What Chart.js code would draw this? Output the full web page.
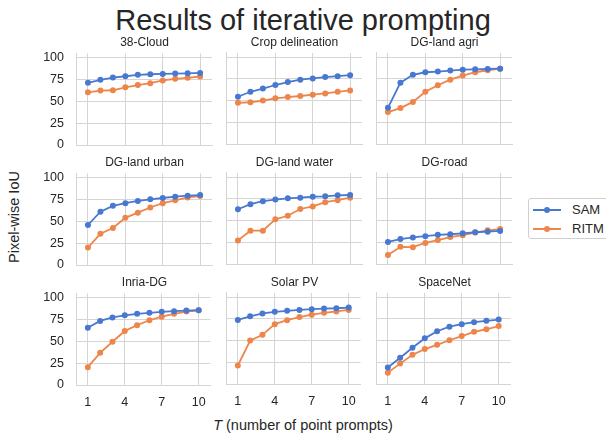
<!DOCTYPE html>
<html>
<head>
<meta charset="utf-8">
<script src="https://cdn.jsdelivr.net/npm/chart.js@4"></script>
<style>
  html,body{margin:0;padding:0;background:#fff;}
  body{width:606px;height:439px;position:relative;overflow:hidden;font-family:"Liberation Sans",Arial,sans-serif;color:#262626;}
  .abs{position:absolute;}
  canvas.panel{position:absolute;}
  .ptitle{position:absolute;font-size:12px;text-align:center;white-space:nowrap;line-height:14px;}
  #title{left:0;width:606px;top:4px;text-align:center;font-size:29px;line-height:32px;}
  #xlabel{left:85px;width:436px;top:416px;text-align:center;font-size:14.5px;line-height:18px;}
  #ylabel{left:14px;top:217px;font-size:14.5px;line-height:18px;transform:translate(-50%,-50%) rotate(-90deg);white-space:nowrap;}
  #legend{left:528px;top:198px;width:80px;height:41px;border:1px solid #d0d0d0;border-radius:3px;background:#fff;box-sizing:border-box;}
  .lrow{position:absolute;left:4px;height:14px;font-size:13px;line-height:14px;}
  .lline{position:absolute;left:0;top:6px;width:28px;height:2px;}
  .ldot{position:absolute;left:11px;top:4px;width:6px;height:6px;border-radius:50%;}
  .ltext{position:absolute;left:39px;top:0;}
</style>
</head>
<body>
<div id="title" class="abs">Results of iterative prompting</div>
<div id="ylabel" class="abs">Pixel-wise IoU</div>
<div id="xlabel" class="abs"><i>T</i> (number of point prompts)</div>
<div id="legend" class="abs"></div>
<script>
'use strict';

// ---- data ----
const T = [1, 2, 3, 4, 5, 6, 7, 8, 9, 10];
const xTicks = [1, 4, 7, 10];
const yTicks = [0, 25, 50, 75, 100];
const seriesNames = ['SAM', 'RITM'];
const seriesColors = ['#4878d0', '#ee854a'];
const panelNames = ['38-Cloud', 'Crop delineation', 'DG-land agri', 'DG-land urban', 'DG-land water', 'DG-road', 'Inria-DG', 'Solar PV', 'SpaceNet'];

const samCloud   = [71.4, 74.8, 77.4, 78.9, 80.5, 81.2, 81.6, 82.0, 82.3, 82.7];
const ritmCloud  = [60.5, 62.4, 62.8, 66.2, 68.8, 71.0, 74.1, 75.9, 77.1, 78.6];
const samCrop    = [54.5, 60.2, 63.9, 68.0, 71.4, 74.1, 75.6, 77.1, 78.2, 79.3];
const ritmCrop   = [47.4, 48.1, 50.0, 52.6, 54.1, 55.3, 56.8, 58.3, 60.2, 61.7];
const samAgri    = [41.7, 70.7, 79.7, 82.7, 83.5, 84.6, 85.7, 86.1, 86.5, 86.8];
const ritmAgri   = [36.8, 41.4, 48.5, 60.2, 67.7, 74.1, 78.9, 82.7, 85.0, 86.8];
const samUrban   = [45.9, 61.2, 67.9, 70.9, 73.5, 75.4, 76.9, 78.4, 79.5, 80.2];
const ritmUrban  = [20.1, 35.8, 42.5, 54.1, 60.1, 66.0, 70.9, 74.3, 77.6, 79.1];
const samWater   = [63.1, 69.0, 72.4, 74.3, 75.7, 76.5, 77.6, 78.0, 79.1, 79.5];
const ritmWater  = [27.2, 38.4, 38.4, 51.5, 55.6, 63.4, 66.4, 71.3, 73.5, 76.5];
const samRoad    = [25.4, 28.7, 30.6, 32.1, 33.6, 34.3, 35.4, 36.6, 37.3, 38.1];
const ritmRoad   = [10.4, 19.8, 19.4, 24.3, 27.6, 31.0, 33.2, 36.2, 38.8, 40.3];
const samInria   = [65.7, 73.5, 77.6, 79.9, 81.7, 82.8, 84.0, 84.7, 85.4, 85.8];
const ritmInria  = [20.5, 36.9, 49.6, 61.9, 68.7, 74.3, 78.4, 81.7, 84.3, 85.8];
const samSolar   = [73.9, 78.0, 81.3, 83.2, 84.3, 85.4, 86.2, 86.9, 87.3, 88.1];
const ritmSolar  = [21.3, 50.0, 56.7, 69.0, 73.5, 77.2, 79.9, 82.1, 83.6, 85.4];
const samSpace   = [19.0, 30.2, 41.8, 52.6, 60.8, 66.0, 69.0, 71.3, 72.8, 74.3];
const ritmSpace  = [13.1, 23.5, 33.6, 40.3, 45.1, 50.4, 55.2, 60.1, 63.1, 66.8];

const panelSeries = [
  [samCloud, ritmCloud], [samCrop, ritmCrop], [samAgri, ritmAgri],
  [samUrban, ritmUrban], [samWater, ritmWater], [samRoad, ritmRoad],
  [samInria, ritmInria], [samSolar, ritmSolar], [samSpace, ritmSpace]
];

// ---- layout ----
const colLeft = [76, 226, 376], rowTop = [53, 173, 293];
const plotW = 137, plotH = 92;
const padL = 50, padB = 30;
const GRID = '#d5d5d5';
const FONT = {family: '"Liberation Sans", Arial, sans-serif', size: 12.5};

function config(i){
  const r = Math.floor(i / 3), c = i % 3;
  return {
    type: 'line',
    data: {
      datasets: panelSeries[i].map((vals, k) => ({
        label: seriesNames[k],
        data: T.map((x, j) => ({x, y: vals[j]})),
        borderColor: seriesColors[k], backgroundColor: seriesColors[k],
        borderWidth: 1.8, pointRadius: 2.1, pointHoverRadius: 2.1, tension: 0
      }))
    },
    options: {
      responsive: false, animation: false, events: [], devicePixelRatio: 1,
      layout: {padding: 0},
      plugins: {legend: {display: false}, tooltip: {enabled: false}},
      scales: {
        x: {
          type: 'linear', min: 0.04, max: 10.96,
          afterBuildTicks: s => { s.ticks = xTicks.map(v => ({value: v})); },
          afterFit: s => { s.height = padB; },
          grid: {color: GRID, lineWidth: 1, drawTicks: false},
          border: {color: GRID, width: 1},
          ticks: {display: r === 2, color: '#262626', font: FONT, padding: 10, maxRotation: 0}
        },
        y: {
          min: 0, max: 105,
          afterBuildTicks: s => { s.ticks = yTicks.map(v => ({value: v})); },
          afterFit: s => { s.width = padL; },
          grid: {color: GRID, lineWidth: 1, drawTicks: false},
          border: {color: GRID, width: 1},
          ticks: {display: c === 0, color: '#262626', font: FONT, padding: 12}
        }
      }
    }
  };
}

panelNames.forEach((name, i) => {
  const r = Math.floor(i / 3), c = i % 3;
  // first pass: measure the padding Chart.js adds around the plot area
  let w = padL + plotW + 20, h = 20 + plotH + padB;
  let cv = document.createElement('canvas');
  cv.className = 'panel';
  cv.width = w; cv.height = h;
  document.body.appendChild(cv);
  let ch = new Chart(cv, config(i));
  let ca = ch.chartArea;
  w += plotW - (ca.right - ca.left);
  h += plotH - (ca.bottom - ca.top);
  ch.destroy();
  cv.remove();
  // second pass with the corrected size
  cv = document.createElement('canvas');
  cv.className = 'panel';
  cv.width = w; cv.height = h;
  document.body.appendChild(cv);
  ch = new Chart(cv, config(i));
  ca = ch.chartArea;
  cv.style.left = (colLeft[c] - ca.left) + 'px';
  cv.style.top = (rowTop[r] - ca.top) + 'px';

  const t = document.createElement('div');
  t.className = 'ptitle';
  t.textContent = name;
  t.style.left = colLeft[c] + 'px'; t.style.width = plotW + 'px';
  t.style.top = (rowTop[r] - 18) + 'px';
  document.body.appendChild(t);
});

// legend
const lg = document.getElementById('legend');
seriesNames.forEach((n, k) => {
  const row = document.createElement('div');
  row.className = 'lrow';
  row.style.top = (4 + k * 19) + 'px';
  row.innerHTML = `<div class="lline" style="background:${seriesColors[k]}"></div><div class="ldot" style="background:${seriesColors[k]}"></div><div class="ltext">${n}</div>`;
  lg.appendChild(row);
});
</script>
</body>
</html>
